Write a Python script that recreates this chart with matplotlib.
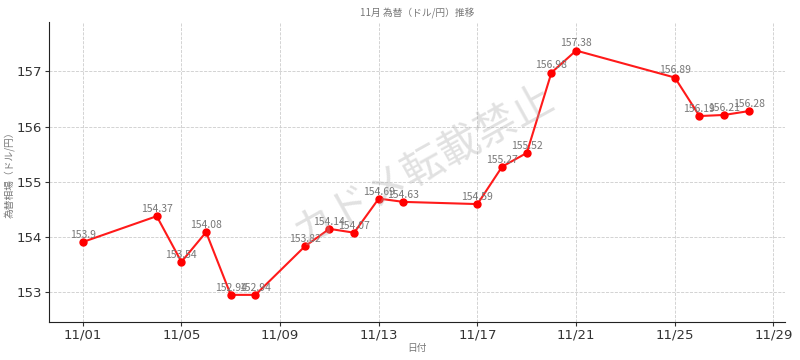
import pandas as pd
import matplotlib
matplotlib.use('Agg')
import matplotlib.pyplot as plt
import matplotlib.dates as mdates

# 字体
plt.rcParams['font.family'] = ['DejaVu Sans', 'Noto Sans CJK JP']
jp = ['Noto Sans CJK JP', 'DejaVu Sans']

# データ
dates = ['2024-11-01', '2024-11-04', '2024-11-05', '2024-11-06', '2024-11-07',
         '2024-11-08', '2024-11-10', '2024-11-11', '2024-11-12', '2024-11-13',
         '2024-11-14', '2024-11-17', '2024-11-18', '2024-11-19', '2024-11-20',
         '2024-11-21', '2024-11-25', '2024-11-26', '2024-11-27', '2024-11-28']
rates = [153.9, 154.37, 153.54, 154.08, 152.94,
         152.94, 153.82, 154.14, 154.07, 154.69,
         154.63, 154.59, 155.27, 155.52, 156.98,
         157.38, 156.89, 156.19, 156.21, 156.28]
labels = ['153.9', '154.37', '153.54', '154.08', '152.94',
          '152.94', '153.82', '154.14', '154.07', '154.69',
          '154.63', '154.59', '155.27', '155.52', '156.98',
          '157.38', '156.89', '156.19', '156.21', '156.28']

x = pd.to_datetime(dates)

fig = plt.figure(figsize=(8, 3.6), dpi=100)
ax = fig.add_axes([0.061, 0.106, 0.92, 0.833])

ax.plot(x, rates, color='#ff1a1a', linewidth=1.5, marker='o', markersize=5,
        markerfacecolor='red', markeredgecolor='red')

for xi, yi, s in zip(x, rates, labels):
    ax.annotate(s, (xi, yi), xytext=(0, 1.5), textcoords='offset points',
                ha='center', va='bottom', fontsize=7.5, color='#777777', family=jp)

ax.set_xlim(pd.Timestamp('2024-11-01') - pd.Timedelta(hours=33),
            pd.Timestamp('2024-11-29') + pd.Timedelta(hours=11))
ax.set_ylim(152.45, 157.9)
ax.set_yticks([153, 154, 155, 156, 157])

ticks = pd.date_range('2024-11-01', '2024-11-29', freq='4D')
ax.set_xticks(ticks)
ax.xaxis.set_major_formatter(mdates.DateFormatter('%m/%d'))
ax.tick_params(axis='both', labelsize=9.5, colors='#333333', length=3, pad=2)

ax.grid(True, linestyle='--', color='#cccccc', linewidth=0.6)
ax.spines['top'].set_visible(False)
ax.spines['right'].set_visible(False)
ax.spines['left'].set_color('#222222')
ax.spines['bottom'].set_color('#222222')

ax.set_title('11月 為替（ドル/円）推移', fontsize=7, color='#777777', family=jp, pad=5)
ax.set_xlabel('日付', fontsize=7, color='#777777', family=jp, labelpad=1)
ax.set_ylabel('為替相場（ドル/円）', fontsize=7, color='#777777', family=jp)
ax.yaxis.set_label_coords(-0.047, 0.5)

# 透かし
ax.text(0.51, 0.52, 'カドメ転載禁止', transform=ax.transAxes, fontsize=30,
        color='#aaaaaa', alpha=0.35, rotation=29, ha='center', va='center',
        family=jp)

fig.savefig('out.png', dpi=100)
plt.close(fig)
